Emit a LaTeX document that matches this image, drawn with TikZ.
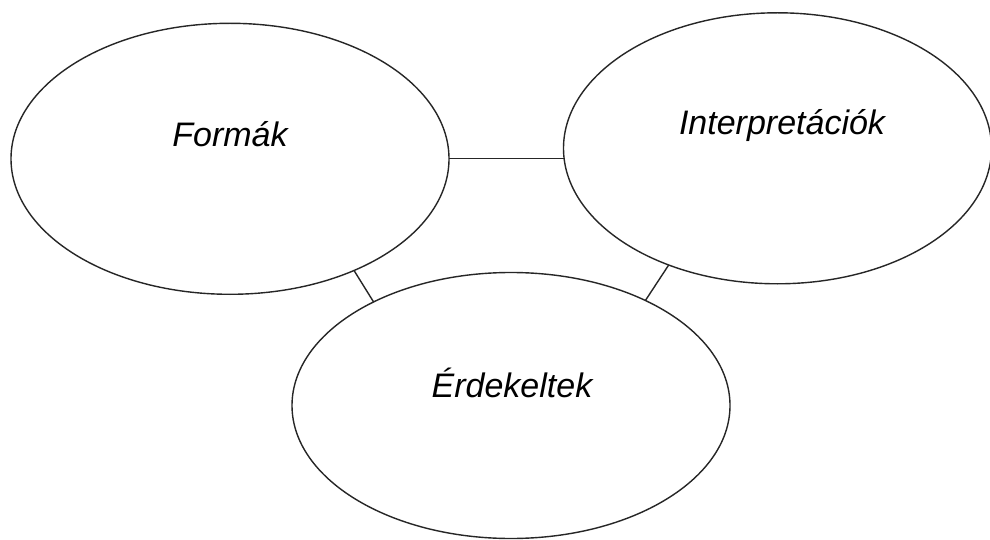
\documentclass[tikz,border=0pt]{standalone}
\usepackage{fontspec}
\setmainfont{Liberation Sans}
\usetikzlibrary{shapes.geometric}
\begin{document}
\begin{tikzpicture}[x=1pt,y=-1pt,
  bubble/.style={ellipse,draw=black!85,line width=1.4pt,inner sep=0pt,outer sep=0pt},
  link/.style={draw=black!85,line width=1.4pt},
  lbl/.style={font=\fontsize{34}{40}\selectfont\itshape,anchor=base,inner sep=0pt}]
  \useasboundingbox (0,0) rectangle (990,540);
  \fill[white] (0,0) rectangle (990,540);
  % the three bubbles
  \node[bubble,minimum width=438pt,minimum height=271pt] (f) at (230,158.8) {};
  \node[bubble,minimum width=428pt,minimum height=271pt] (i) at (777.5,148.3) {};
  \node[bubble,minimum width=438pt,minimum height=266pt] (e) at (511,405.5) {};
  % their titles
  \node[lbl] (ft) at (230,147) {Formák};
  \node[lbl] (it) at (782,135) {Interpretációk};
  \node[lbl] (et) at (512,397) {Érdekeltek};
  % short links between the bubbles
  \draw[link] (f.east) -- (f.east -| i.west);
  \draw[link] (f.-42.5) -- (e.143);
  \draw[link] (i.-133.9) -- (e.38.6);
\end{tikzpicture}
\end{document}
